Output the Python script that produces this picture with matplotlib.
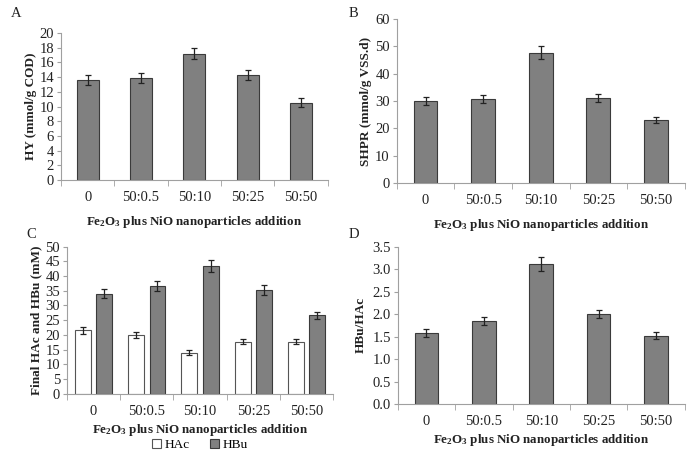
import matplotlib
matplotlib.use("Agg")
import matplotlib.pyplot as plt
import numpy as np

plt.rcParams['font.family'] = ['Liberation Serif', 'DejaVu Serif']
plt.rcParams['mathtext.fontset'] = 'custom'
plt.rcParams['mathtext.rm'] = 'Liberation Serif'
plt.rcParams['mathtext.bf'] = 'Liberation Serif:bold'
plt.rcParams['mathtext.it'] = 'Liberation Serif:italic'

categories = ["0", "50:0.5", "50:10", "50:25", "50:50"]

hy = [13.6, 13.9, 17.2, 14.3, 10.5]
hy_err = [0.7, 0.7, 0.8, 0.7, 0.6]

shpr = [30.0, 30.7, 47.7, 31.2, 23.2]
shpr_err = [1.5, 1.5, 2.3, 1.5, 1.1]

hac = [21.5, 20.0, 14.0, 17.7, 17.7]
hac_err = [1.1, 0.9, 0.7, 0.9, 0.9]
hbu = [34.0, 36.6, 43.4, 35.2, 26.6]
hbu_err = [1.6, 1.7, 2.0, 1.7, 1.3]

ratio = [1.58, 1.85, 3.11, 2.01, 1.52]
ratio_err = [0.08, 0.09, 0.15, 0.09, 0.08]

xlabel = r"Fe$_\mathbf{2}$O$_\mathbf{3}$ plus NiO nanoparticles addition"

BAR = "#808080"
EDGE = "#3a3a3a"
AXC = "#a0a0a0"
TXT = "#222222"

fig = plt.figure(figsize=(6.93, 4.53), dpi=100)

def style(ax, ymax, step, fmt="{:.0f}"):
    x = np.arange(len(categories))
    ax.set_xlim(-0.5, len(categories) - 0.5)
    ax.set_ylim(0, ymax)
    ticks = np.arange(0, ymax + step / 2, step)
    ax.set_yticks(ticks)
    ax.set_yticklabels([fmt.format(t) for t in ticks], fontsize=10.5, color=TXT)
    ax.set_xticks(x)
    ax.set_xticklabels(categories, fontsize=10.5, color=TXT)
    ax.set_xticks(np.arange(-0.5, len(categories)), minor=True)
    ax.tick_params(axis='x', which='major', length=0, pad=8)
    ax.tick_params(axis='x', which='minor', length=4, color=AXC, direction='out')
    ax.tick_params(axis='y', length=3, color=AXC, pad=2)
    for s in ['top', 'right']:
        ax.spines[s].set_visible(False)
    for s in ['left', 'bottom']:
        ax.spines[s].set_color(AXC)
        ax.spines[s].set_linewidth(0.8)
    ax.set_xlabel(xlabel, fontsize=9.4, fontweight='bold', color=TXT, labelpad=7)

ekw = dict(ecolor="#222222", elinewidth=0.9, capsize=2.5, capthick=0.9)
x = np.arange(len(categories))

# A
axA = fig.add_axes([0.088, 0.6026, 0.385, 0.3245])
axA.bar(x, hy, width=0.41, color=BAR, edgecolor=EDGE, linewidth=0.8,
        yerr=hy_err, error_kw=ekw, zorder=2)
style(axA, 20, 2)
axA.set_ylabel("HY (mmol/g COD)", fontsize=9.5, fontweight='bold', color=TXT, labelpad=2)
fig.text(0.016, 0.962, "A", fontsize=10.5, color=TXT)

# B
axB = fig.add_axes([0.5725, 0.596, 0.4155, 0.362])
axB.bar(x, shpr, width=0.41, color=BAR, edgecolor=EDGE, linewidth=0.8,
        yerr=shpr_err, error_kw=ekw, zorder=2)
style(axB, 60, 10)
axB.set_ylabel("SHPR (mmol/g VSS.d)", fontsize=9.5, fontweight='bold', color=TXT, labelpad=2)
fig.text(0.5035, 0.962, "B", fontsize=10.5, color=TXT)

# C
axC = fig.add_axes([0.0967, 0.131, 0.384, 0.3244])
w = 0.3
axC.bar(x - 0.2, hac, width=w, color="white", edgecolor="#555555", linewidth=0.8,
        yerr=hac_err, error_kw=ekw, zorder=2, label="HAc")
axC.bar(x + 0.2, hbu, width=w, color=BAR, edgecolor=EDGE, linewidth=0.8,
        yerr=hbu_err, error_kw=ekw, zorder=2, label="HBu")
style(axC, 50, 5)
axC.xaxis.labelpad = 3
axC.set_ylabel("Final HAc and HBu (mM)", fontsize=9.5, fontweight='bold', color=TXT, labelpad=2)
fig.text(0.038, 0.475, "C", fontsize=10.5, color=TXT)
axC.legend(loc='center', bbox_to_anchor=(0.5, -0.35), ncol=2, frameon=False,
           fontsize=9.5, handlelength=0.7, handleheight=0.7, handletextpad=0.3,
           columnspacing=1.5, borderaxespad=0, borderpad=0)

# D
axD = fig.add_axes([0.574, 0.108, 0.414, 0.3474])
axD.bar(x, ratio, width=0.41, color=BAR, edgecolor=EDGE, linewidth=0.8,
        yerr=ratio_err, error_kw=ekw, zorder=2)
style(axD, 3.5, 0.5, "{:.1f}")
axD.xaxis.labelpad = 3
axD.set_ylabel("HBu/HAc", fontsize=9.5, fontweight='bold', color=TXT, labelpad=4)
fig.text(0.5035, 0.475, "D", fontsize=10.5, color=TXT)

fig.savefig("out.png", dpi=100, facecolor="white")
